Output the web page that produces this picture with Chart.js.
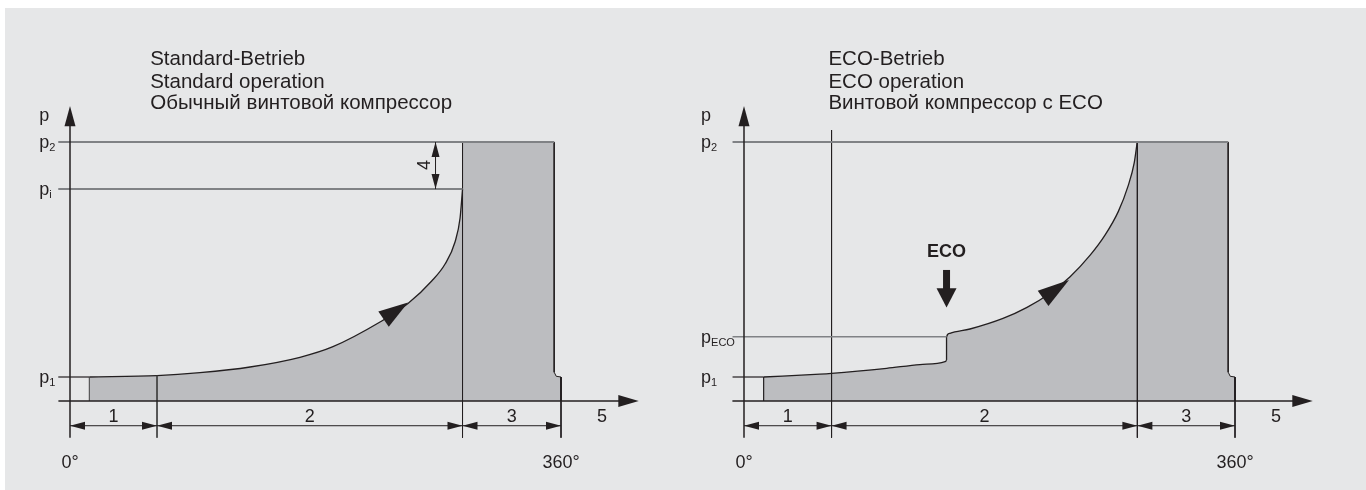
<!DOCTYPE html>
<html>
<head>
<meta charset="utf-8">
<script src="https://cdn.jsdelivr.net/npm/chart.js@4.4.1/dist/chart.umd.min.js"></script>
<style>
    html, body {margin: 0; padding: 0; background: #fff;}
    #frame {position: absolute; left: 5px; top: 8px; width: 1361px; height: 482px; background: #e6e7e8;}
    .panel {position: absolute; top: 0; width: 674px; height: 490px;}
    #left {left: 0;}
    #right {left: 674px;}
</style>
</head>
<body>
<div id="frame"></div>
<div class="panel" id="left"><canvas id="stdChart" width="674" height="490"></canvas></div>
<div class="panel" id="right"><canvas id="ecoChart" width="674" height="490"></canvas></div>
<script>
// pressure levels, p1 = 1
const P1 = 1.0;
const PI = 8.83;
const P2 = 10.79;
const PECO = 2.68;

// standard operation: compression curve (angle in degrees, pressure)
const stdAngle = [14.2, 63.8, 95.3, 132.0, 168.6, 192.8, 227.3, 247.8, 265.2, 275.0, 282.3, 286.0, 287.8];
const stdPressure = [1.0, 1.054, 1.179, 1.417, 1.821, 2.263, 3.29, 4.06, 5.0, 5.71, 6.625, 7.625, 8.83];
const stdPhases = [14.2, 63.8, 287.8, 355, 360]; // suction start, end 1, end 2, discharge end, 360

// ECO operation: before and after the ECO port opens
const ecoAngleA = [14.4, 55.7, 64.2, 104.6, 129.0, 147.4, 149.0];
const ecoPressureA = [1.0, 1.117, 1.15, 1.362, 1.517, 1.642, 1.72];
const ecoAngleB = [148.5, 149.3, 151.0, 165.7, 189.9, 207.5, 224.4, 239.1, 253.8, 264.8, 274.4, 281.7, 286.1, 288.3];
const ecoPressureB = [2.68, 2.77, 2.82, 3.0, 3.44, 3.90, 4.49, 5.175, 6.075, 6.92, 7.89, 8.975, 9.925, 10.79];
const ecoPhases = [14.4, 64.2, 288.4, 355, 360];
const ecoPort = 148.5;

const phaseLabels = ['1', '2', '3'];
const exhaustLabel = '5';
const degreeLabels = ['0°', '360°'];

const INK = '#231f20';
const FILL = '#bcbdc0';
const REF = '#808285';
const FONT = '"Liberation Sans", Arial, sans-serif';

const pts = (xs, ys) => xs.map((x, i) => ({x, y: ys[i]}));

const seg = (data, color, width) => ({
    data, borderColor: color, borderWidth: width, fill: false,
    pointRadius: 0, tension: 0, clip: false
});

const area = (data, extra = {}) => Object.assign({
    data, borderColor: INK, borderWidth: 1.3, backgroundColor: FILL, fill: 'origin',
    pointRadius: 0, clip: false
}, extra);

const head = (ctx, tx, ty, bx, by, w) => {
    const dx = tx - bx, dy = ty - by, len = Math.hypot(dx, dy) || 1;
    const nx = -dy / len * w / 2, ny = dx / len * w / 2;
    ctx.beginPath();
    ctx.moveTo(tx, ty);
    ctx.lineTo(bx + nx, by + ny);
    ctx.lineTo(bx - nx, by - ny);
    ctx.closePath();
    ctx.fill();
};

const stroke = (ctx, x1, y1, x2, y2) => {
    ctx.beginPath();
    ctx.moveTo(x1, y1);
    ctx.lineTo(x2, y2);
    ctx.stroke();
};

// p label with subscript
const pLabel = (ctx, x, y, sub) => {
    ctx.textAlign = 'left';
    ctx.textBaseline = 'alphabetic';
    ctx.font = `18px ${FONT}`;
    ctx.fillText('p', x, y + 6);
    if (sub) {
        const w = ctx.measureText('p').width;
        ctx.font = `11px ${FONT}`;
        ctx.fillText(sub, x + w, y + 9);
    }
};

const diagramPlugin = {
    id: 'diagram',
    afterDatasetsDraw(chart, args, o) {
        const {ctx, scales: {x, y}} = chart;
        const X = v => x.getPixelForValue(v);
        const Y = v => y.getPixelForValue(v);
        const ph = o.phases;
        ctx.save();
        ctx.fillStyle = INK;
        ctx.strokeStyle = INK;

        // axes
        ctx.lineWidth = 1.5;
        stroke(ctx, X(-8.5), Y(0), X(410), Y(0));
        head(ctx, X(417), Y(0), X(402), Y(0), 12);
        stroke(ctx, X(0), Y(-1.53), X(0), Y(11.6));
        head(ctx, X(0), Y(12.29), X(0), Y(11.45), 11);

        // dimension row
        ctx.lineWidth = 1;
        const dimY = Y(-1.03);
        const marks = [0, ph[1], ph[2], ph[4]];
        for (let i = 0; i < 3; i++) {
            const a = X(marks[i]), b = X(marks[i + 1]);
            stroke(ctx, a, dimY, b, dimY);
            head(ctx, a, dimY, a + 15, dimY, 8);
            head(ctx, b, dimY, b - 15, dimY, 8);
        }

        // flow arrow on the compression curve
        const fa = o.flowArrow;
        head(ctx, X(fa[0]), Y(fa[1]), X(fa[2]), Y(fa[3]), 18.6);

        // texts
        ctx.font = `18px ${FONT}`;
        ctx.textAlign = 'center';
        ctx.textBaseline = 'alphabetic';
        for (let i = 0; i < 3; i++) {
            ctx.fillText(phaseLabels[i], X((marks[i] + marks[i + 1]) / 2), Y(-0.86));
        }
        ctx.fillText(exhaustLabel, X(390), Y(-0.86));
        ctx.fillText(degreeLabels[0], X(0), Y(-2.8));
        ctx.fillText(degreeLabels[1], X(360), Y(-2.8));

        ctx.font = `20.5px ${FONT}`;
        ctx.textAlign = 'left';
        o.title.forEach((t, i) => ctx.fillText(t, X(o.titleX), Y([14.0, 13.06, 12.17][i])));

        const lx = X(o.labelX);
        ctx.font = `18px ${FONT}`;
        ctx.fillText('p', lx, Y(11.67));
        o.levels.forEach(([v, sub]) => pLabel(ctx, lx, Y(v), sub));

        if (o.pressureRatio) {
            // dimension 4 between p2 and pi
            const ax = X(268);
            stroke(ctx, ax, Y(P2), ax, Y(PI));
            head(ctx, ax, Y(P2), ax, Y(P2) + 15, 8);
            head(ctx, ax, Y(PI), ax, Y(PI) - 15, 8);
            ctx.save();
            ctx.translate(X(260.3), Y(9.83));
            ctx.rotate(-Math.PI / 2);
            ctx.textAlign = 'center';
            ctx.textBaseline = 'middle';
            ctx.font = `18px ${FONT}`;
            ctx.fillText('4', 0, 0);
            ctx.restore();
        }

        if (o.ecoPort) {
            const ex = X(o.ecoPort);
            ctx.font = `bold 18px ${FONT}`;
            ctx.textAlign = 'center';
            ctx.fillText('ECO', ex, Y(5.99));
            ctx.fillRect(ex - 3.5, Y(5.46), 7, Y(4.66) - Y(5.46));
            head(ctx, ex, Y(3.9), ex, Y(4.7), 20);
        }
        ctx.restore();
    }
};

const makeChart = (id, datasets, diagram) => new Chart(document.getElementById(id), {
    type: 'line',
    data: {datasets},
    options: {
        responsive: false,
        animation: false,
        events: [],
        layout: {padding: {left: 70, right: 113, top: 113, bottom: 89}},
        scales: {
            x: {type: 'linear', min: 0, max: 360, display: false},
            y: {type: 'linear', min: 0, max: 12, display: false}
        },
        plugins: {legend: {display: false}, tooltip: {enabled: false}, diagram}
    },
    plugins: [diagramPlugin]
});

const blockData = ph => [
    {x: ph[2], y: P2}, {x: ph[3], y: P2}, {x: ph[3], y: 1.2},
    {x: ph[3] + 1.5, y: 1.03}, {x: 360, y: P1}, {x: 360, y: 0}
];

// left: standard operation
makeChart('stdChart', [
    seg([{x: -8.6, y: P2}, {x: stdPhases[3], y: P2}], REF, 2),
    seg([{x: -8.6, y: PI}, {x: stdPhases[2], y: PI}], REF, 2),
    seg([{x: -8.6, y: P1}, {x: stdPhases[0], y: P1}], INK, 1.2),
    seg([{x: stdPhases[0], y: 0}, {x: stdPhases[0], y: P1}], '#555', 1.2),
    seg([{x: stdPhases[1], y: stdPressure[1]}, {x: stdPhases[1], y: -1.53}], '#444', 1),
    seg([{x: stdPhases[2], y: P2}, {x: stdPhases[2], y: -1.53}], INK, 1),
    seg([{x: 360, y: P1}, {x: 360, y: -1.53}], INK, 1),
    area(pts(stdAngle, stdPressure), {cubicInterpolationMode: 'monotone'}),
    area(blockData(stdPhases), {borderWidth: 1, tension: 0})
], {
    phases: stdPhases,
    flowArrow: [247.8, 4.1, 229.9, 3.41],
    title: ['Standard-Betrieb', 'Standard operation', 'Обычный винтовой компрессор'],
    titleX: 58.8,
    labelX: -22.5,
    levels: [[P2, '2'], [PI, 'i'], [P1, '1']],
    pressureRatio: true
});

// right: ECO operation
makeChart('ecoChart', [
    seg([{x: -8.4, y: P2}, {x: ecoPhases[3], y: P2}], REF, 2),
    seg([{x: -8.4, y: PECO}, {x: ecoPort, y: PECO}], REF, 1.6),
    seg([{x: -8.4, y: P1}, {x: ecoPhases[0], y: P1}], INK, 1.2),
    seg([{x: ecoPhases[0], y: 0}, {x: ecoPhases[0], y: P1}], INK, 1.2),
    seg([{x: ecoPhases[1], y: 11.29}, {x: ecoPhases[1], y: -1.53}], INK, 1),
    seg([{x: ecoPhases[2], y: P2}, {x: ecoPhases[2], y: -1.53}], INK, 1),
    seg([{x: 360, y: P1}, {x: 360, y: -1.53}], INK, 1),
    seg([{x: ecoPort, y: 1.71}, {x: ecoPort, y: ecoPressureB[0]}], INK, 1.3),
    area(pts(ecoAngleB, ecoPressureB), {cubicInterpolationMode: 'monotone'}),
    area(pts(ecoAngleA, ecoPressureA), {cubicInterpolationMode: 'monotone'}),
    area(blockData(ecoPhases), {borderWidth: 1, tension: 0})
], {
    phases: ecoPhases,
    flowArrow: [238.3, 5.04, 219.3, 4.28],
    title: ['ECO-Betrieb', 'ECO operation', 'Винтовой компрессор с ECO'],
    titleX: 61.9,
    labelX: -31.5,
    levels: [[P2, '2'], [PECO, 'ECO'], [P1, '1']],
    ecoPort
});
</script>
</body>
</html>
